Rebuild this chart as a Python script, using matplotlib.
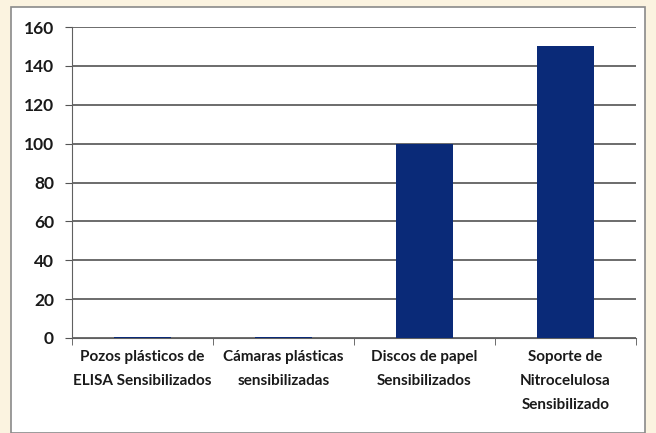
import matplotlib
matplotlib.use("Agg")
import matplotlib.pyplot as plt
from matplotlib.patches import Rectangle

categories = ["Pozos plásticos de\nELISA Sensibilizados",
              "Cámaras plásticas\nsensibilizadas",
              "Discos de papel\nSensibilizados",
              "Soporte de\nNitrocelulosa\nSensibilizado"]
values = [0.5, 0.4, 100, 150]
yticks = [0, 20, 40, 60, 80, 100, 120, 140, 160]

fig = plt.figure(figsize=(6.56, 4.33), dpi=100)
fig.patch.set_facecolor("#fbf3e0")
# white chart box
fig.patches.append(Rectangle((11/656, 0), (645-11)/656, (433-7)/433,
                             transform=fig.transFigure, facecolor="white",
                             edgecolor="#8a8a8a", linewidth=1.2, zorder=-5))

ax = fig.add_axes([72/656, (433-338)/433, (636-72)/656, (338-27)/433])
ax.set_zorder(2)
ax.set_facecolor("white")
x = list(range(len(categories)))
ax.bar(x, values, width=0.4, color="#0a2a78", zorder=3)
ax.set_xlim(-0.5, 3.5)
ax.set_ylim(0, 160)
ax.set_yticks(yticks)
ax.set_yticklabels([str(v) for v in yticks], fontsize=12.5, family="Lato",
                   fontweight="bold", color="#1a1a1a")
ax.set_xticks(x)
ax.set_xticklabels(categories, fontsize=11, family="Lato",
                   fontweight="bold", color="#1a1a1a", linespacing=1.9)
ax.set_xticks([-0.5, 0.5, 1.5, 2.5, 3.5], minor=True)
ax.tick_params(axis="x", which="major", length=0, pad=9)
ax.tick_params(axis="x", which="minor", length=5, color="#555555")
ax.tick_params(axis="y", length=5, color="#555555", pad=8)
ax.grid(axis="y", color="#606060", linewidth=1.3, zorder=0)
ax.set_axisbelow(True)
for s in ["top", "right"]:
    ax.spines[s].set_visible(False)
ax.spines["left"].set_color("#606060")
ax.spines["bottom"].set_color("#606060")

fig.savefig("out.png", dpi=100, facecolor=fig.get_facecolor())
